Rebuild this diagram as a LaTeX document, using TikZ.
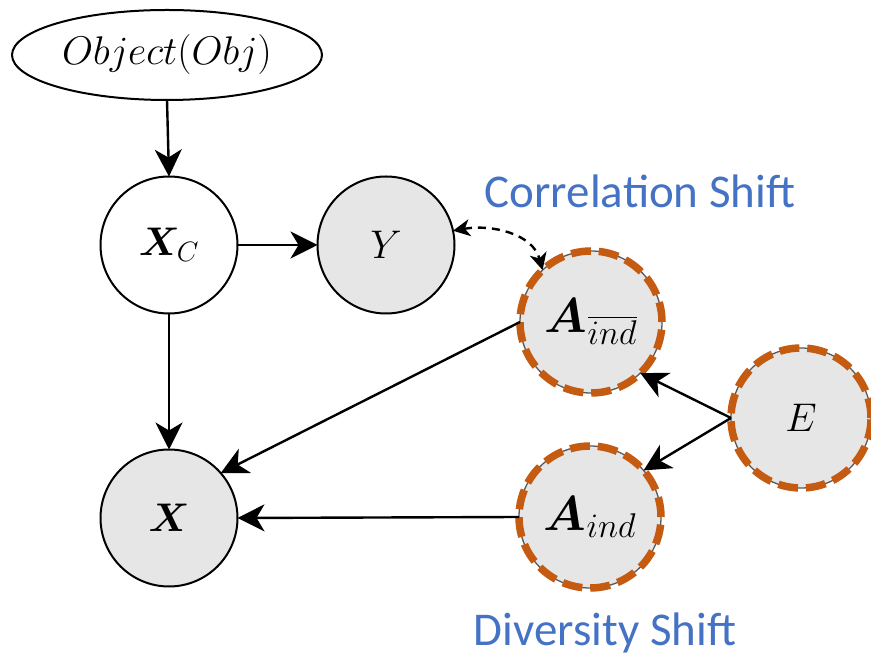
\RequirePackage{fix-cm}
\documentclass[tikz,border=0pt]{standalone}
\usepackage{amsmath,bm}
\usepackage{fontspec}
\newfontfamily\labelfont{Carlito}
\usetikzlibrary{arrows.meta,shapes.geometric}
\definecolor{nodegray}{RGB}{230,230,230}
\definecolor{shiftorange}{RGB}{197,90,17}
\definecolor{shiftblue}{RGB}{68,114,196}
\begin{document}
\begin{tikzpicture}[x=1pt,y=1pt,
  every node/.style={inner sep=0pt, outer sep=0pt},
  var/.style={circle, draw=black, line width=2pt, minimum size=137pt,
    font=\fontsize{40}{48}\selectfont},
  obs/.style={var, fill=nodegray},
  attr/.style={obs, minimum size=142pt, draw=black!65, line width=1.3pt,
    font=\fontsize{49}{58}\selectfont,
    postaction={draw=shiftorange, line width=7.5pt, dash pattern=on 20pt off 7.9pt}},
  edge/.style={line width=2.4pt, -{Stealth[length=27pt,width=27pt,inset=8pt]}},
  biedge/.style={line width=2.4pt, dash pattern=on 8pt off 6pt,
    {Stealth[length=17pt,width=17pt,inset=5pt]}-{Stealth[length=17pt,width=17pt,inset=5pt]}},
  shiftlabel/.style={font=\labelfont\fontsize{47}{56}\selectfont, text=shiftblue, anchor=base}
]
\useasboundingbox (0,0) rectangle (871,656);

\node[ellipse, draw=black, line width=2pt, minimum width=310pt, minimum height=90pt,
  font=\fontsize{40}{48}\selectfont] (Obj) at (167,601) {$Object(Obj)$};
\node[var] (XC) at (169,411) {$\bm{X}_C$};
\node[obs] (Y) at (386,411) {$Y$};
\node[attr] (Abar) at (591,334) {$\bm{A}_{\overline{ind}}$};
\node[attr, minimum size=140pt, font=\fontsize{40}{48}\selectfont] (E) at (801,238) {$E$};
\node[attr] (Aind) at (590,139) {$\bm{A}_{ind}$};
\node[obs] (X) at (169,138) {$\bm{X}$};

\node[shiftlabel] (corr) at (640,448) {Correlation Shift};
\node[shiftlabel] (div) at (605,10) {Diversity Shift};

\draw[edge] (Obj.south) -- (XC.north);
\draw[edge] (XC.east) -- (Y.west);
\draw[edge] (XC.south) -- (X.north);
\draw[edge] (Abar.west) -- (X.41);
\draw[edge] (Aind.west) -- (X.east);
\draw[edge] (E.west) -- (Abar.-46);
\draw[edge] (E.west) -- (Aind.41);
\draw[biedge] (Y.12) to[out=10, in=105] (Abar.133);
\end{tikzpicture}
\end{document}
